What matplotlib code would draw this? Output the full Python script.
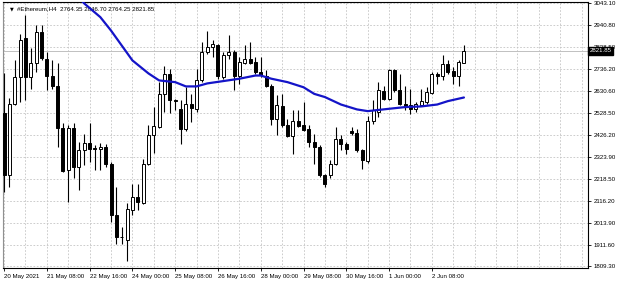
import numpy as np
import matplotlib.pyplot as plt
from matplotlib.transforms import blended_transform_factory

# H4 candles, 20 May 2021 00:00 .. 3 Jun 2021 08:00
opens = [2527, 2236, 2570, 2697, 2879, 2697, 2762, 2908, 2784, 2705,
         2654, 2457, 2260, 2457, 2275, 2354, 2390, 2363, 2358, 2369,
         2291, 2053, 1948, 1932, 2072, 2135, 2106, 2288, 2424, 2463,
         2620, 2713, 2588, 2549, 2455, 2573, 2549, 2685, 2815, 2838,
         2846, 2697, 2799, 2815, 2705, 2763, 2784, 2768, 2721, 2705,
         2654, 2502, 2560, 2471, 2419, 2494, 2471, 2455, 2393, 2369,
         2236, 2236, 2288, 2408, 2382, 2444, 2434, 2354, 2303, 2494,
         2533, 2632, 2596, 2729, 2635, 2573, 2565, 2549, 2569, 2580,
         2623, 2713, 2701, 2760, 2724, 2705, 2764.35]
highs = [2715, 2598, 2776, 2902, 2987, 2832, 2940, 2940, 2815, 2776,
         2762, 2480, 2471, 2480, 2393, 2433, 2480, 2377, 2388, 2385,
         2299, 2182, 1994, 2105, 2197, 2197, 2314, 2471, 2557, 2674,
         2752, 2737, 2595, 2588, 2650, 2620, 2737, 2862, 2913, 2870,
         2854, 2815, 2893, 2823, 2791, 2846, 2862, 2791, 2791, 2729,
         2663, 2612, 2620, 2502, 2541, 2541, 2580, 2471, 2432, 2377,
         2244, 2307, 2463, 2424, 2393, 2463, 2455, 2361, 2513, 2588,
         2674, 2658, 2737, 2737, 2713, 2658, 2643, 2580, 2643, 2650,
         2721, 2721, 2799, 2776, 2744, 2776, 2846.70]
lows = [2157, 2180, 2565, 2580, 2588, 2644, 2721, 2776, 2635, 2644,
        2369, 2252, 2111, 2222, 2166, 2283, 2299, 2260, 2260, 2275,
        2017, 1916, 1916, 1835, 2049, 2072, 2104, 2283, 2340, 2457,
        2533, 2527, 2545, 2385, 2447, 2486, 2533, 2674, 2807, 2791,
        2690, 2690, 2784, 2635, 2666, 2760, 2760, 2713, 2697, 2650,
        2471, 2424, 2463, 2416, 2338, 2463, 2447, 2369, 2291, 2228,
        2182, 2225, 2283, 2354, 2338, 2424, 2346, 2268, 2294, 2479,
        2510, 2588, 2588, 2627, 2565, 2541, 2526, 2533, 2565, 2573,
        2620, 2666, 2682, 2713, 2666, 2658, 2764.25]
closes = [2236, 2570, 2697, 2874, 2697, 2762, 2908, 2785, 2705, 2654,
          2457, 2257, 2457, 2275, 2354, 2388, 2358, 2362, 2369, 2291,
          2053, 1947, 1946, 2077, 2135, 2111, 2291, 2424, 2466, 2620,
          2713, 2588, 2586, 2455, 2573, 2554, 2685, 2815, 2841, 2854,
          2701, 2799, 2815, 2705, 2768, 2784, 2763, 2721, 2709, 2654,
          2502, 2565, 2471, 2419, 2494, 2466, 2451, 2393, 2369, 2236,
          2197, 2291, 2408, 2382, 2362, 2434, 2354, 2307, 2494, 2541,
          2635, 2596, 2729, 2635, 2573, 2557, 2549, 2573, 2585, 2627,
          2713, 2701, 2760, 2721, 2705, 2768, 2821.85]

# moving average (blue line), read at some bars
ma_bar = [14, 15, 18, 20, 22, 24, 27, 29, 32, 34, 36, 38, 41, 44, 47,
          48, 50, 53, 56, 58, 60, 63, 66, 68, 72, 75, 78, 81, 83, 86]
ma_val = [3070, 3043, 2979, 2916, 2846, 2776, 2715, 2682, 2674, 2654,
          2654, 2668, 2679, 2690, 2705, 2705, 2690, 2674, 2650, 2619,
          2604, 2569, 2546, 2538, 2549, 2557, 2560, 2569, 2585, 2602]

price_ticks = [3043.10, 2940.80, 2838.50, 2736.20, 2630.60, 2528.50, 2426.20,
               2323.90, 2218.50, 2116.20, 2013.90, 1911.60, 1809.30]
time_bars = [0, 8, 16, 24, 32, 40, 48, 56, 64, 72, 80]
time_labels = ["20 May 2021", "21 May 08:00", "22 May 16:00", "24 May 00:00",
               "25 May 08:00", "26 May 16:00", "28 May 00:00", "29 May 08:00",
               "30 May 16:00", "1 Jun 00:00", "2 Jun 08:00"]
last_price = 2821.85
header = "#Ethereum,H4  2764.35 2846.70 2764.25 2821.85"

plt.rcParams['font.family'] = ['Liberation Sans', 'DejaVu Sans']
FS = 4.4

W, H = 620, 282
fig = plt.figure(figsize=(W / 100, H / 100), dpi=100)
ax = fig.add_axes([3 / W, 14 / H, 585 / W, 266 / H])

o = np.array(opens)
h = np.array(highs)
l = np.array(lows)
c = np.array(closes)
x = np.arange(len(o))
up = c >= o

ax.vlines(x, l, h, color='black', linewidth=0.8, zorder=3)
body_lo = np.minimum(o, c)
body_h = np.maximum(np.abs(c - o), 1.0)
ax.bar(x[up], body_h[up], bottom=body_lo[up], width=0.56, facecolor='white',
       edgecolor='black', linewidth=0.7, zorder=4)
ax.bar(x[~up], body_h[~up], bottom=body_lo[~up], width=0.56, facecolor='black',
       edgecolor='black', linewidth=0.7, zorder=4)

ax.plot(ma_bar, ma_val, color='#1414c8', linewidth=1.6, zorder=5,
        solid_joinstyle='round', solid_capstyle='round')

# grid
for gx in range(0, 112, 4):
    ax.axvline(gx, color='#c4c4c4', linewidth=0.6, linestyle=(0, (2, 2)), zorder=1)
for gy in price_ticks:
    ax.axhline(gy, color='#c4c4c4', linewidth=0.6, linestyle=(0, (2, 2)), zorder=1)
ax.axhline(last_price, color='#c0c0c0', linewidth=0.7, zorder=1)

ax.set_xlim(-0.2, 109.2)
ax.set_ylim(1802, 3050)

ax.yaxis.tick_right()
ax.set_yticks(price_ticks)
ax.set_yticklabels(["%.2f" % p for p in price_ticks])
ax.set_xticks(time_bars)
ax.set_xticklabels(time_labels, ha='left')
ax.tick_params(axis='y', direction='out', length=2.5, width=0.6, pad=1.5,
               labelsize=FS, colors='black')
ax.tick_params(axis='x', direction='out', length=2.5, width=0.6, pad=1.5,
               labelsize=FS, colors='black')
for lab in ax.get_xticklabels():
    lab.set_x(lab.get_position()[0])

for s in ['top', 'right', 'bottom']:
    ax.spines[s].set_color('black')
    ax.spines[s].set_linewidth(0.8)
ax.spines['left'].set_color('#909090')
ax.spines['left'].set_linewidth(0.8)

# last price box on the price scale
ax.annotate("%.2f" % last_price, xy=(1.0, last_price),
            xycoords=blended_transform_factory(ax.transAxes, ax.transData),
            xytext=(1.2, 0), textcoords='offset points', ha='left', va='center',
            fontsize=FS, color='white', annotation_clip=False, zorder=10,
            bbox=dict(boxstyle='square,pad=0.25', facecolor='black', edgecolor='black'))

ax.text(0.012, 0.985, "\u25bc", transform=ax.transAxes, fontsize=3.5,
        va='top', ha='left', color='black', family='DejaVu Sans')
ax.text(0.024, 0.985, header, transform=ax.transAxes, fontsize=FS,
        va='top', ha='left', color='black')

fig.savefig("out.png", dpi=100)
